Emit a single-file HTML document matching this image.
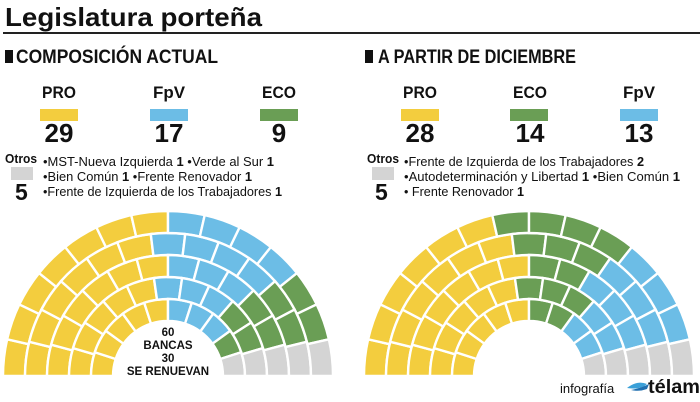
<!DOCTYPE html>
<html><head><meta charset="utf-8"><style>
html,body{margin:0;padding:0;background:#fff;}
svg{display:block;}
text{font-family:"Liberation Sans","DejaVu Sans",sans-serif;fill:#111;}
.b{font-weight:bold;}
</style></head><body>
<svg id="s" width="700" height="402" viewBox="0 0 700 402" xmlns="http://www.w3.org/2000/svg">
<rect width="700" height="402" fill="#fff"/>
<text x="5" y="26" class="b" font-size="26" textLength="257" lengthAdjust="spacingAndGlyphs">Legislatura porteña</text>
<rect x="3" y="32" width="697" height="2" fill="#222"/>

<rect x="5" y="50" width="8" height="13" fill="#111"/>
<text x="16" y="63" font-size="19" class="b" textLength="202" lengthAdjust="spacingAndGlyphs">COMPOSICIÓN ACTUAL</text>
<rect x="365" y="50" width="8" height="13" fill="#111"/>
<text x="378" y="63" font-size="19" class="b" textLength="198" lengthAdjust="spacingAndGlyphs">A PARTIR DE DICIEMBRE</text>

<g font-size="17" class="b" text-anchor="middle">
<text x="59" y="98" class="b" textLength="34" lengthAdjust="spacingAndGlyphs">PRO</text>
<text x="169" y="98" class="b" textLength="32" lengthAdjust="spacingAndGlyphs">FpV</text>
<text x="279" y="98" class="b" textLength="34" lengthAdjust="spacingAndGlyphs">ECO</text>
<text x="420" y="98" class="b" textLength="34" lengthAdjust="spacingAndGlyphs">PRO</text>
<text x="530" y="98" class="b" textLength="34" lengthAdjust="spacingAndGlyphs">ECO</text>
<text x="639" y="98" class="b" textLength="32" lengthAdjust="spacingAndGlyphs">FpV</text>
</g>
<rect x="40" y="109" width="38" height="12" fill="#f3cd3e"/>
<rect x="150" y="109" width="38" height="12" fill="#6cbde6"/>
<rect x="260" y="109" width="38" height="12" fill="#6a9e55"/>
<rect x="401" y="109" width="38" height="12" fill="#f3cd3e"/>
<rect x="510" y="109" width="38" height="12" fill="#6a9e55"/>
<rect x="620" y="109" width="38" height="12" fill="#6cbde6"/>
<g font-size="26" class="b" text-anchor="middle">
<text x="59" y="142" class="b">29</text>
<text x="169" y="142" class="b">17</text>
<text x="279" y="142" class="b">9</text>
<text x="420" y="142" class="b">28</text>
<text x="530" y="142" class="b">14</text>
<text x="639" y="142" class="b">13</text>
</g>

<text x="5" y="163" font-size="13" class="b" textLength="32" lengthAdjust="spacingAndGlyphs">Otros</text>
<rect x="11" y="167" width="22" height="13" fill="#d4d4d4"/>
<text x="15" y="200" font-size="23" class="b">5</text>
<g font-size="13">
<text x="43" y="166" textLength="231" lengthAdjust="spacingAndGlyphs">•MST-Nueva Izquierda <tspan class="b">1</tspan> •Verde al Sur <tspan class="b">1</tspan></text>
<text x="43" y="181" textLength="209" lengthAdjust="spacingAndGlyphs">•Bien Común <tspan class="b">1</tspan> •Frente Renovador <tspan class="b">1</tspan></text>
<text x="43" y="196" textLength="239" lengthAdjust="spacingAndGlyphs">•Frente de Izquierda de los Trabajadores <tspan class="b">1</tspan></text>
</g>

<text x="367" y="163" font-size="13" class="b" textLength="32" lengthAdjust="spacingAndGlyphs">Otros</text>
<rect x="372" y="167" width="22" height="13" fill="#d4d4d4"/>
<text x="375" y="200" font-size="23" class="b">5</text>
<g font-size="13">
<text x="404" y="166" textLength="240" lengthAdjust="spacingAndGlyphs">•Frente de Izquierda de los Trabajadores <tspan class="b">2</tspan></text>
<text x="404" y="181" textLength="276" lengthAdjust="spacingAndGlyphs">•Autodeterminación y Libertad <tspan class="b">1</tspan> •Bien Común <tspan class="b">1</tspan></text>
<text x="404" y="196" textLength="120" lengthAdjust="spacingAndGlyphs">• Frente Renovador <tspan class="b">1</tspan></text>
</g>

<g id="L"></g><g id="R"></g>

<g font-size="11.5" class="b" text-anchor="middle">
<text x="168" y="336" class="b">60</text>
<text x="168" y="349" class="b">BANCAS</text>
<text x="168" y="362" class="b">30</text>
<text x="168" y="375" class="b">SE RENUEVAN</text>
</g>

<text x="560" y="393" font-size="13">infografía</text>
<path d="M627 388 q10 -8 20 -4 q-6 6 -20 4z" fill="#3aa0d8"/>
<path d="M631 390 q10 -2 18 -6 l-2 5 q-8 3 -16 1z" fill="#1f6fb0"/>
<text x="648" y="393" font-size="19" class="b" textLength="52" lengthAdjust="spacingAndGlyphs">télam</text>
</svg>
<script>
(function(){
var NS="http://www.w3.org/2000/svg";
var Y="#f3cd3e",B="#6cbde6",G="#6a9e55",Gr="#d4d4d4";
function draw(id,cx,cy,groups){
  var radii=[55,77,99,121,143,165],counts=[10,11,12,13,14],seats=[];
  for(var r=0;r<5;r++){var n=counts[r];for(var i=0;i<n;i++){seats.push({r:r,a1:180*i/n,a2:180*(i+1)/n,c:180*(i+0.5)/n});}}
  seats.sort(function(a,b){return a.c-b.c||a.r-b.r;});
  var cols=[];groups.forEach(function(g){for(var k=0;k<g[1];k++)cols.push(g[0]);});
  var g=document.getElementById(id);
  function pt(r,a){var t=a*Math.PI/180;return (cx-r*Math.cos(t)).toFixed(2)+" "+(cy-r*Math.sin(t)).toFixed(2);}
  seats.forEach(function(s,i){
    var r1=radii[s.r],r2=radii[s.r+1];
    var d="M"+pt(r1,s.a1)+" L"+pt(r2,s.a1)+" A"+r2+" "+r2+" 0 0 1 "+pt(r2,s.a2)+" L"+pt(r1,s.a2)+" A"+r1+" "+r1+" 0 0 0 "+pt(r1,s.a1)+"Z";
    var p=document.createElementNS(NS,"path");
    p.setAttribute("d",d);p.setAttribute("fill",cols[i]);p.setAttribute("stroke","#fff");p.setAttribute("stroke-width","2.4");
    g.appendChild(p);
  });
}
draw("L",168,376,[[Y,29],[B,17],[G,9],[Gr,5]]);
draw("R",529,376,[[Y,28],[G,14],[B,13],[Gr,5]]);
})();
</script>
</body></html>
